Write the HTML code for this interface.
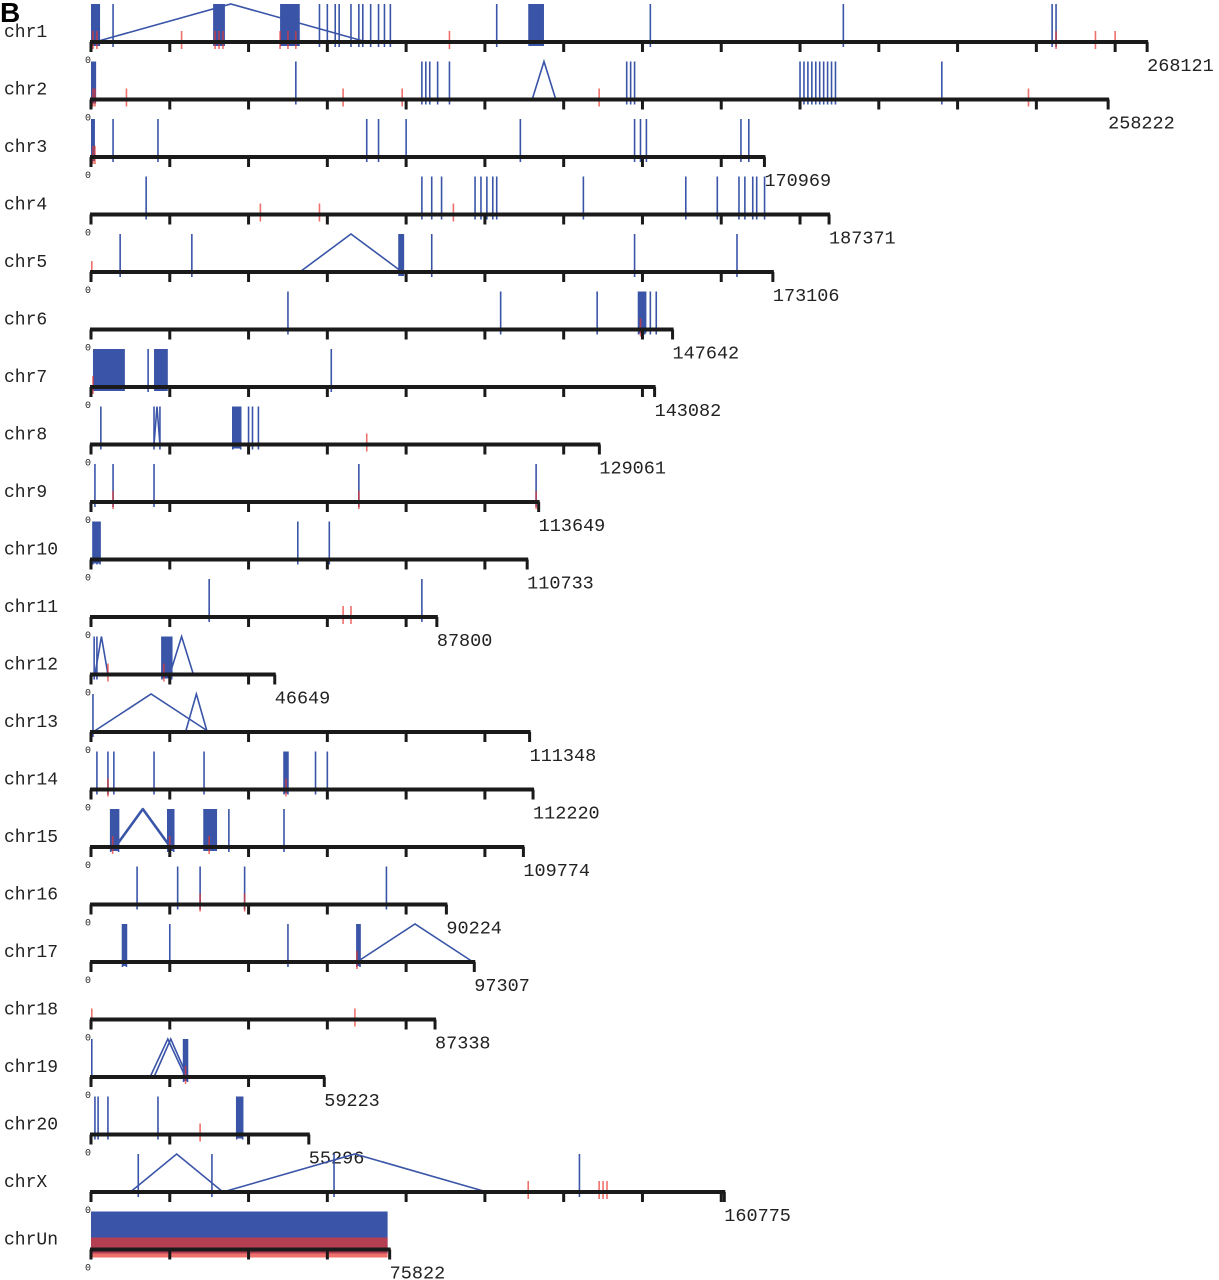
<!DOCTYPE html>
<html><head><meta charset="utf-8"><style>
body{margin:0;background:#fff}
svg{display:block}
text{font-family:"Liberation Mono",monospace}
</style></head><body>
<svg id="chart" width="1219" height="1280" viewBox="0 0 1219 1280">
<text x="0" y="22" style="font-family:'Liberation Sans',sans-serif;font-weight:bold;font-size:28px">B</text>
</svg>
<script>
const chromNames=["chr1","chr2","chr3","chr4","chr5","chr6","chr7","chr8","chr9","chr10","chr11","chr12","chr13","chr14","chr15","chr16","chr17","chr18","chr19","chr20","chrX","chrUn"];
const chromLengths=[268121,258222,170969,187371,173106,147642,143082,129061,113649,110733,87800,46649,111348,112220,109774,90224,97307,87338,59223,55296,160775,75822];
// blue single marks (kb)
const blueMarks=[
[5.6,58,60,62,63,66,68,69,71,73,74.5,76,103,142,191,244,245],
[52,84,85,86,88,91,136,137,138,180,181,182,183,184,185,186,187,188,189,216],
[5.6,17,70,73,80,109,138,139.5,141,165,167],
[14,84,86.5,89,97.5,99,100.5,102,103,125,151,159,164.5,166,168,169,171],
[7.4,25.6,86.5,138,164],
[50,104,128.5,139,140.5,142,143.5],
[14.5,61],
[2.5,16,17.5,36,38,40,41,42.5],
[1,5.6,16,68,113],
[0.5,1.5,2.3,52.5,60.5],
[30,84],
[0.8,1.5,18,20.5],
[0.5],
[1.5,4.3,5.8,16,28.7,49,50,57,60],
[5,7,19.5,21,35,49],
[11.7,22,27.7,39,75],
[8,9,20,50,67.5,68.3],
[],
[0.2,23.5,24.5],
[1,1.8,4.3,17,37,38.5],
[12,30.7,61.7,124],
[]
];
// dense blue blocks [start,end] kb
const blueBlocks=[
[[0,2.3],[31,34],[48,53],[111,115]],
[[0,1.3]],
[[0,1]],
[],
[[78,79.5]],
[[139,141]],
[[0.5,8.6],[16,19.5]],
[[36,38]],
[],
[[0.5,2.3]],
[],
[[18,20.5]],
[],
[[49,50]],
[[5,7],[19.5,21],[28.5,32]],
[],
[[8,9],[67.5,68.3]],
[],
[[23.5,24.5]],
[[37,38.5]],
[],
[[0,75.3]]
];
// arcs [start,end] kb
const arcs=[
[[1,70]],
[[112,118]],
[],
[],
[[53,79]],
[],
[],
[[16,17.5]],
[],
[],
[],
[[1,4.3],[20,26]],
[[0.5,30],[24,29.5]],
[],
[[6,20],[6.3,20.3]],
[],
[[67.5,97]],
[],
[[15,24],[16,24.5]],
[],
[[10,33.5],[33.5,100.5]],
[]
];
// red marks (kb)
const redMarks=[
[0.5,1.5,23,31.5,32.5,33.5,48,50,52,91,245,255,260],
[0.5,1,9,64,79,129,238],
[0.5,1],
[43,58,92],
[0.2],
[139.5],
[0.5],
[70],
[5.6,68,113],
[],
[64,66],
[4.3,18.5],
[],
[4.3,49.5],
[5.5,20,30],
[27.7,39],
[67.5],
[0.2,67],
[24],
[27.7],
[111,129,130,131],
[]
];
const redBlocks=[[],[],[],[],[],[],[],[],[],[],[],[],[],[],[],[],[],[],[],[],[],[[0,75.3]]];

const svg=document.getElementById('chart');
const NS='http://www.w3.org/2000/svg';
const X0=91, PXKB=3.939, Y0=42, DY=57.5, H=38;
const xs=kb=>X0+kb*PXKB;
const ys=i=>Y0+i*DY;
function mk(tag,attrs){const e=document.createElementNS(NS,tag);for(const k in attrs)e.setAttribute(k,attrs[k]);svg.appendChild(e);return e;}
chromNames.forEach((name,i)=>{
  const y=ys(i);
  const lab=mk('text',{x:4,y:y-5,'font-size':18,fill:'#222'});
  lab.textContent=name;
  
  
  blueBlocks[i].forEach(b=>{
    const r=mk('rect',{x:xs(b[0]),y:y-H,width:Math.max(1.5,xs(b[1])-xs(b[0])),height:H+4,fill:'#3a55a8'});
    
    
  });
  blueMarks[i].forEach(p=>{
    const l=mk('line',{x1:xs(p),x2:xs(p),y1:y-H,y2:y+5,stroke:'#3a55a8','stroke-width':1.6});
    
    
  });
  arcs[i].forEach(a=>{
    const m=(xs(a[0])+xs(a[1]))/2;
    const p=mk('polyline',{points:`${xs(a[0])},${y} ${m},${y-H} ${xs(a[1])},${y}`,fill:'none',stroke:'#3a55a8','stroke-width':1.6});
    
    
  });
  redBlocks[i].forEach(b=>{
    const r=mk('rect',{x:xs(b[0]),y:y-12,width:xs(b[1])-xs(b[0]),height:20,fill:'#e8352e',opacity:0.7});
    
    
  });
  redMarks[i].forEach(p=>{
    const l=mk('line',{x1:xs(p),x2:xs(p),y1:y-11,y2:y+7,stroke:'#e8352e','stroke-width':1.6,opacity:0.7});
    
    
  });
  const end=xs(chromLengths[i]/1000);
  const ax=mk('line',{x1:X0-1,x2:end+1,y1:y,y2:y,stroke:'#1a1a1a','stroke-width':4});
  
  
  for(let t=0;t<=chromLengths[i];t+=20000){
    const tk=mk('line',{x1:xs(t/1000),x2:xs(t/1000),y1:y,y2:y+10,stroke:'#1a1a1a','stroke-width':3});
    
    
  }
  const et=mk('line',{x1:end,x2:end,y1:y,y2:y+10,stroke:'#1a1a1a','stroke-width':3});
  
  
  const z=mk('text',{x:85,y:y+21,'font-size':10,fill:'#222','font-family':'Liberation Sans, sans-serif'});
  z.textContent='0';
  
  
  const ln=mk('text',{x:end,y:y+29,'font-size':18.5,fill:'#222'});
  ln.textContent=String(chromLengths[i]);
  
  
});
</script>
</body></html>
